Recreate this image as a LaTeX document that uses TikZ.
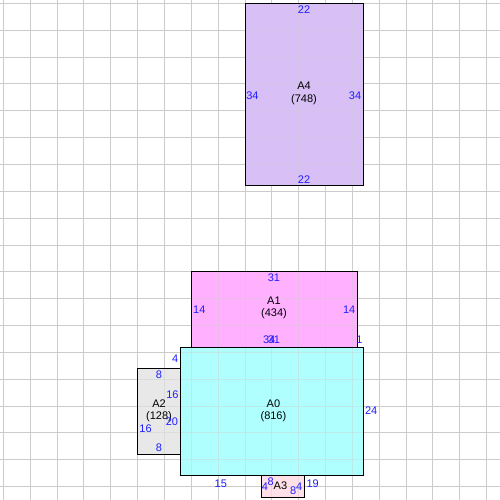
\documentclass[tikz,border=0pt]{standalone}
\usepackage{fontspec}
\setmainfont{Liberation Sans}
\begin{document}
\begin{tikzpicture}[x=5.37pt,y=-5.37pt,
  gridline/.style={draw={rgb,255:red,204;green,204;blue,204},line width=0.9pt},
  area/.style={draw=black,line width=0.9pt},
  dimlabel/.style={text={rgb,255:red,30;green,30;blue,255},inner sep=0pt,font=\fontsize{11}{12.7}\selectfont},
  arealabel/.style={text=black,inner sep=0pt,align=center,font=\fontsize{11}{12.7}\selectfont}]
\definecolor{cA4}{RGB}{216,191,246}
\definecolor{cA1}{RGB}{255,176,255}
\definecolor{cA0}{RGB}{176,255,255}
\definecolor{cA2}{RGB}{232,232,232}
\definecolor{cA3}{RGB}{255,224,232}
\useasboundingbox[fill=white] (-0.6145,-0.6145) rectangle (92.49,92.49);
% grid
\foreach \g in {0,5,...,90}{
  \draw[gridline] (\g,-0.6145) -- (\g,92.49);
  \draw[gridline] (-0.6145,\g) -- (92.49,\g);
}
% fills
\fill[cA4] (45,0) rectangle (67,34);
\fill[cA1] (35,50) rectangle (66,64);
\fill[cA0] (33,64) rectangle (67,88);
\fill[cA2] (25,68) rectangle (33,84);
\fill[cA3] (48,88) rectangle (56,92);
% grid seen through fills
\begin{scope}[opacity=0.4]
\foreach \g in {0,5,...,90}{
  \draw[gridline] (\g,-0.6145) -- (\g,92.49);
  \draw[gridline] (-0.6145,\g) -- (92.49,\g);
}
\end{scope}
% outlines
\draw[area] (45,0) rectangle (67,34);
\draw[area] (35,50) rectangle (66,64);
\draw[area] (25,68) rectangle (33,84);
\draw[area] (33,64) rectangle (67,88);
\draw[area] (48,88) rectangle (56,92);
% names
\node[arealabel] (nA4) at (56,16.8) {A4\\(748)};
\node[arealabel] (nA1) at (50.4,56.7) {A1\\(434)};
\node[arealabel] (nA0) at (50.3,75.9) {A0\\(816)};
\node[arealabel] (nA2) at (29,75.9) {A2\\(128)};
\node[arealabel] (nA3) at (51.6,89.9) {A3};
% A4 dimensions
\node[dimlabel] (a4t) at (56,1.25) {22};
\node[dimlabel] (a4b) at (56,32.8) {22};
\node[dimlabel] (a4l) at (46.4,17.2) {34};
\node[dimlabel] (a4r) at (65.5,17.2) {34};
% A1 dimensions
\node[dimlabel] (a1t) at (50.4,51.1) {31};
\node[dimlabel] (a1l) at (36.5,57) {14};
\node[dimlabel] (a1r) at (64.4,57) {14};
\node[dimlabel] (a1b) at (50.4,62.7) {31};
\node[dimlabel] (a1g) at (66.3,62.7) {1};
% A0 dimensions
\node[dimlabel] (a0t) at (49.5,62.7) {34};
\node[dimlabel] (a0l1) at (32.0,66.1) {4};
\node[dimlabel] (a0l2) at (31.5,72.8) {16};
\node[dimlabel] (a0l3) at (31.4,77.9) {20};
\node[dimlabel] (a0r) at (68.5,75.9) {24};
\node[dimlabel] (a0b1) at (40.5,89.4) {15};
\node[dimlabel] (a0b2) at (57.6,89.4) {19};
% A2 dimensions
\node[dimlabel] (a2t) at (29,69.2) {8};
\node[dimlabel] (a2b) at (29,82.8) {8};
\node[dimlabel] (a2l) at (26.5,79.3) {16};
% A3 dimensions
\node[dimlabel] (a3l) at (48.7,90.0) {4};
\node[dimlabel] (a3t) at (49.8,89.1) {8};
\node[dimlabel] (a3b) at (54.0,90.8) {8};
\node[dimlabel] (a3r) at (55.1,90.0) {4};
\end{tikzpicture}
\end{document}
